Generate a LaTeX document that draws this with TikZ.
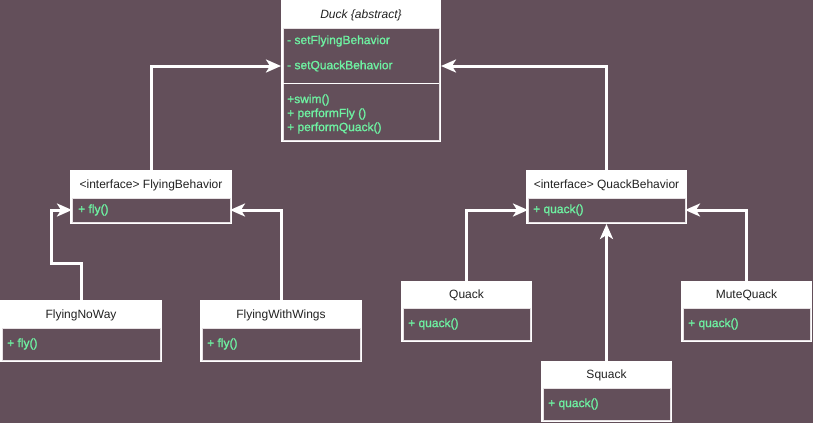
\documentclass[tikz,border=0pt]{standalone}
\usepackage{fontspec}
\setmainfont{Liberation Sans}
\newfontfamily\grnfont{Liberation Sans}[FakeBold=1.1]
\usetikzlibrary{calc,arrows.meta}
\definecolor{bgc}{HTML}{634F5A}
\definecolor{grn}{HTML}{6EF2A2}
\definecolor{bodyline}{HTML}{E6E0E3}
\definecolor{ink}{HTML}{222222}
\newcommand\umlbox[7]{%
  \node[clsbox, minimum width=#4, minimum height=#5, anchor=north west] (#1) at (#2,#3) {};
  \node[hdrtext] (#1-title) at ($(#1.north)+(0,#6/2+1)$) {#7};
  \node[bodybox, minimum width=#4-4, minimum height=#5-#6-2, anchor=north west] (#1-body) at ($(#1.north west)+(2,#6)$) {};
}
\begin{document}
\begin{tikzpicture}[x=1pt,y=-1pt,
  clsbox/.style={rectangle, fill=white, draw=none, inner sep=0pt, outer sep=0pt},
  bodybox/.style={rectangle, fill=bgc, draw=bodyline, line width=1pt, inner sep=0pt, outer sep=0pt},
  hdrtext/.style={inner sep=0pt, text=ink, font=\fontsize{12}{14}\selectfont},
  mtext/.style={inner sep=0pt, anchor=west, text=grn, font=\grnfont\fontsize{12}{14}\selectfont},
  conn/.style={draw=white, line width=3pt, -{Stealth[length=15pt, width=13pt, inset=4pt, fill=white]}}]
\fill[bgc] (0,0) rectangle (813,423);
\useasboundingbox (0,0) rectangle (813,423);
% Duck
\umlbox{duck}{281}{0}{160}{142}{28}{\itshape Duck \{abstract\}}
\draw[white, line width=1pt] (283,83) -- (439,83);
\node[mtext] (setf) at (287,41) {- setFlyingBehavior};
\node[mtext] (setq) at (287,66) {- setQuackBehavior};
\node[mtext] (swim) at (287,100) {+swim()};
\node[mtext] (pfly) at (287,114) {+ performFly ()};
\node[mtext] (pquack) at (287,128) {+ performQuack()};
% Flying side
\umlbox{fbeh}{70}{170}{162}{54}{28}{<interface> FlyingBehavior}
\node[mtext] (fbehm) at ($(fbeh-body.west)+(6,0)$) {+ fly()};
\umlbox{fnw}{0}{300}{162}{62}{28}{FlyingNoWay}
\node[mtext] (fnwm) at ($(fnw-body.west)+(5,0)$) {+ fly()};
\umlbox{fww}{200}{300}{162}{62}{28}{FlyingWithWings}
\node[mtext] (fwwm) at ($(fww-body.west)+(5,0)$) {+ fly()};
% Quack side
\umlbox{qbeh}{526}{170}{161}{54}{28}{<interface> QuackBehavior}
\node[mtext] (qbehm) at ($(qbeh-body.west)+(5,0)$) {+ quack()};
\umlbox{qk}{401}{281}{131}{61}{27}{Quack}
\node[mtext] (qkm) at ($(qk-body.west)+(5,0)$) {+ quack()};
\umlbox{mq}{681}{281}{131}{61}{27}{MuteQuack}
\node[mtext] (mqm) at ($(mq-body.west)+(5,0)$) {+ quack()};
\umlbox{sq}{541}{361}{131}{61}{27}{Squack}
\node[mtext] (sqm) at ($(sq-body.west)+(5,0)$) {+ quack()};
% connectors
\draw[conn] (fnw.north) -- ++(0,-37) -- ++(-30,0) |- (fbeh-body.west);
\draw[conn] (fww.north) |- (fbeh-body.east);
\draw[conn] (fbeh.north) |- (duck.west |- setq.west);
\draw[conn] (qbeh.north) |- (duck.east |- setq.west);
\draw[conn] (qk.north) |- (qbeh-body.west);
\draw[conn] (mq.north) |- (qbeh-body.east);
\draw[conn] (sq.north) -- (qbeh.south);
\end{tikzpicture}
\end{document}
